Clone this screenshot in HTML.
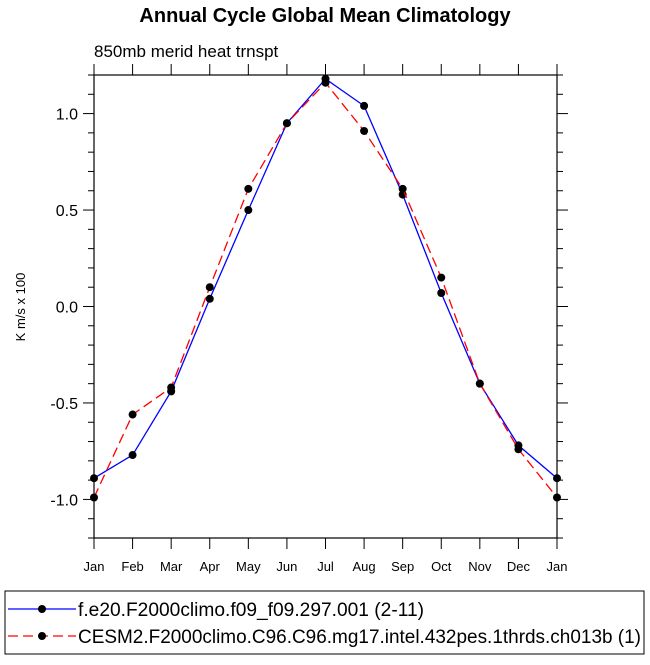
<!DOCTYPE html>
<html><head><meta charset="utf-8"><style>
body{margin:0;background:#fff}
svg text{font-family:"Liberation Sans",Helvetica,Arial,sans-serif}
</style></head><body>
<svg id="c" width="650" height="660" xmlns="http://www.w3.org/2000/svg">
<text x="325" y="22" text-anchor="middle" font-size="20" font-weight="bold">Annual Cycle Global Mean Climatology</text>
<text x="94" y="57" font-size="17">850mb merid heat trnspt</text>
<text transform="translate(25,307) rotate(-90)" text-anchor="middle" font-size="13">K m/s x 100</text>
<g id="axes"></g>
<g id="series"></g>
<g id="legend">
<rect x="5" y="591" width="639" height="63" fill="#fff" stroke="#000" stroke-width="1"/>
<line x1="8" y1="609" x2="76" y2="609" stroke="#0000ff" stroke-width="1.2"/>
<circle cx="42" cy="609" r="4" fill="#000"/>
<text x="78" y="616" font-size="19" textLength="346" lengthAdjust="spacingAndGlyphs">f.e20.F2000climo.f09_f09.297.001 (2-11)</text>
<line x1="8" y1="636" x2="76" y2="636" stroke="#ff0000" stroke-width="1.2" stroke-dasharray="10,5"/>
<circle cx="42" cy="636" r="4" fill="#000"/>
<text x="78" y="643" font-size="19" textLength="563" lengthAdjust="spacingAndGlyphs">CESM2.F2000climo.C96.C96.mg17.intel.432pes.1thrds.ch013b (1)</text>
</g>
</svg>
<script>
const months=["Jan","Feb","Mar","Apr","May","Jun","Jul","Aug","Sep","Oct","Nov","Dec","Jan"];
const blueVals=[-0.89,-0.77,-0.44,0.04,0.50,0.95,1.18,1.04,0.58,0.07,-0.40,-0.72,-0.89];
const redVals=[-0.99,-0.56,-0.42,0.10,0.61,0.95,1.16,0.91,0.61,0.15,-0.40,-0.74,-0.99];
const yTicks=[-1.0,-0.5,0.0,0.5,1.0];
const yTickLabels=["-1.0","-0.5","0.0","0.5","1.0"];
const L=94,R=557,T=75,B=538,ymin=-1.2,ymax=1.2;
const NS="http://www.w3.org/2000/svg";
const xs=i=>L+(R-L)*i/(months.length-1);
const ys=v=>B-(v-ymin)/(ymax-ymin)*(B-T);
function mk(tag,attrs,parent){const e=document.createElementNS(NS,tag);for(const k in attrs)e.setAttribute(k,attrs[k]);parent.appendChild(e);return e;}
const ax=document.getElementById('axes');
const frame=mk('rect',{x:L,y:T,width:R-L,height:B-T,fill:'none',stroke:'#000','stroke-width':1.2},ax);


months.forEach((m,i)=>{
  const x=xs(i);
  mk('line',{x1:x,y1:B,x2:x,y2:B+11,stroke:'#000'},ax);
  mk('line',{x1:x,y1:T,x2:x,y2:T-11,stroke:'#000'},ax);
  const t=mk('text',{x:x,y:B+33,'text-anchor':'middle','font-size':13},ax);
  t.textContent=m;
  
  
});
for(let k=-12;k<=12;k++){
  const v=k/10,y=ys(v),major=(k%5===0)&&Math.abs(k)<=10;
  const len=major?11:6;
  mk('line',{x1:L,y1:y,x2:L-len,y2:y,stroke:'#000'},ax);
  mk('line',{x1:R,y1:y,x2:R+len,y2:y,stroke:'#000'},ax);
}
yTicks.forEach((v,i)=>{
  const t=mk('text',{x:L-16,y:ys(v)+6,'text-anchor':'end','font-size':16},ax);
  t.textContent=yTickLabels[i];
  
  
});
const sg=document.getElementById('series');
function draw(vals,color,dash,name){
  const p=mk('polyline',{points:vals.map((v,i)=>xs(i)+','+ys(v)).join(' '),fill:'none',stroke:color,'stroke-width':1.3},sg);
  if(dash)p.setAttribute('stroke-dasharray',dash);
  
  
  vals.forEach((v,i)=>{
    const c=mk('circle',{cx:xs(i),cy:ys(v),r:4,fill:'#000'},sg);
    
    
  });
}
draw(blueVals,'#0000ff',null,'blue-series');
draw(redVals,'#ff0000','10,5','red-series');
</script>
</body></html>
